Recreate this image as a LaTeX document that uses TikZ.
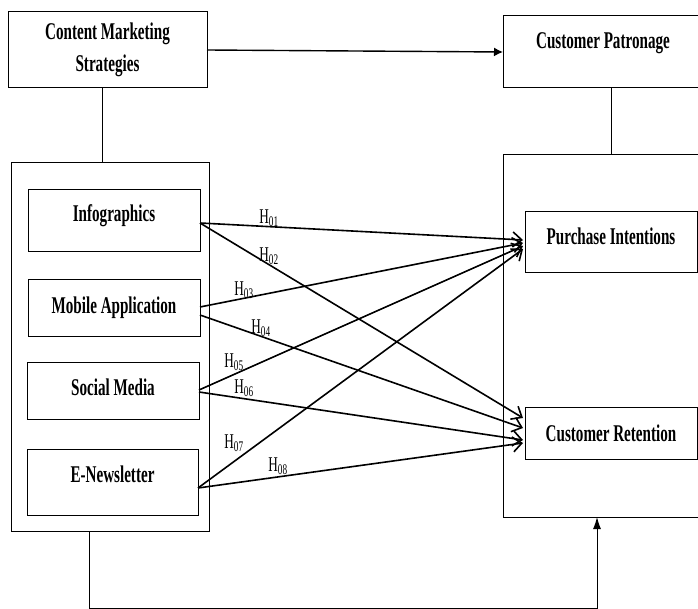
\documentclass[tikz,border=0pt]{standalone}
\usepackage{fontspec}
\setmainfont[FakeStretch=0.63]{Liberation Serif}
\usetikzlibrary{arrows.meta}
\tikzset{
	box/.style = {draw, line width=1pt, inner sep=0pt, outer sep=0pt, align=center,
		font=\fontsize{24}{32}\selectfont\bfseries},
	lift/.style = {text height=16pt, text depth=#1},
	frame/.style = {draw, line width=1pt, inner sep=0pt, outer sep=0pt},
	hyp/.style = {line width=1.6pt, -{Straight Barb[length=9pt,width=15pt]}},
	lbl/.style = {inner sep=0pt, font=\fontsize{21}{21}\selectfont}
}
\begin{document}
\begin{tikzpicture}[x = 1pt, y = -1pt]
			\clip (0,0) rectangle (698,609);
			
			\node[box, minimum width=199pt, minimum height=76pt] (cms) at (107.5,50) {Content Marketing\\Strategies};
			\node[box, lift=22pt, minimum width=200pt, minimum height=72pt] (cp) at (603,52) {Customer Patronage};
			\node[frame, minimum width=198pt, minimum height=368pt] (lft) at (110,347) {};
			\node[frame, minimum width=202pt, minimum height=362pt] (rgt) at (604,336) {};
			
			\node[box, lift=14pt, minimum width=172pt, minimum height=62pt] (info) at (114,221) {Infographics};
			\node[box, lift=6pt, minimum width=172pt, minimum height=56pt] (mob) at (114,308) {Mobile Application};
			\node[box, lift=7pt, minimum width=172pt, minimum height=57pt] (soc) at (113,390.5) {Social Media};
			\node[box, lift=16pt, minimum width=171pt, minimum height=66pt] (enews) at (112.5,482) {E-Newsletter};
			
			\node[box, lift=12pt, minimum width=172pt, minimum height=61pt] (pi) at (611,242.5) {Purchase Intentions};
			\node[box, lift=0pt, minimum width=172pt, minimum height=52pt] (cr) at (611,433) {Customer Retention};
			
			\draw[line width=1.4pt, -{Latex[length=9pt,width=9pt]}] (cms.east) -- (cp.west);
			\draw[line width=0.8pt] ([xshift=-5.5pt]cms.south) -- ([xshift=-5.5pt]cms.south |- lft.north);
			\draw[line width=0.8pt] (cp.south -| pi) -- (rgt.north -| pi);
			\draw[line width=1pt, -{Latex[length=12pt,width=8pt]}] ([xshift=-21pt]lft.south) -- ++(0,77.5) -| ([xshift=-7pt]rgt.south);
			
			\draw[hyp] ([yshift=-2pt]info.east) -- ([shift={(-2pt,2.5pt)}]pi.west);
			\draw[hyp] ([yshift=-2pt]info.east) -- ([shift={(-2pt,15pt)}]cr.west);
			\draw[hyp] ([yshift=1pt]mob.east) -- ([shift={(-2pt,-0.5pt)}]pi.west);
			\draw[hyp] ([yshift=-7pt]mob.east) -- ([shift={(-2pt,5pt)}]cr.west);
			\draw[hyp] ([yshift=0.5pt]soc.east) -- ([shift={(-2pt,-3.5pt)}]pi.west);
			\draw[hyp] ([yshift=-1.5pt]soc.east) -- ([shift={(-2pt,-7pt)}]cr.west);
			\draw[hyp] ([yshift=-6pt]enews.east) -- ([shift={(-2pt,-6.5pt)}]pi.west);
			\draw[hyp] ([yshift=-6pt]enews.east) -- ([shift={(-2pt,-10pt)}]cr.west);
			
			\node[lbl] (h01) at (269,218) {H\textsubscript{01}};
			\node[lbl] (h02) at (269,256) {H\textsubscript{02}};
			\node[lbl] (h03) at (244,290) {H\textsubscript{03}};
			\node[lbl] (h04) at (261,328) {H\textsubscript{04}};
			\node[lbl] (h05) at (234,362) {H\textsubscript{05}};
			\node[lbl] (h06) at (244,388) {H\textsubscript{06}};
			\node[lbl] (h07) at (234,443) {H\textsubscript{07}};
			\node[lbl] (h08) at (278,466) {H\textsubscript{08}};
		\end{tikzpicture}
\end{document}
